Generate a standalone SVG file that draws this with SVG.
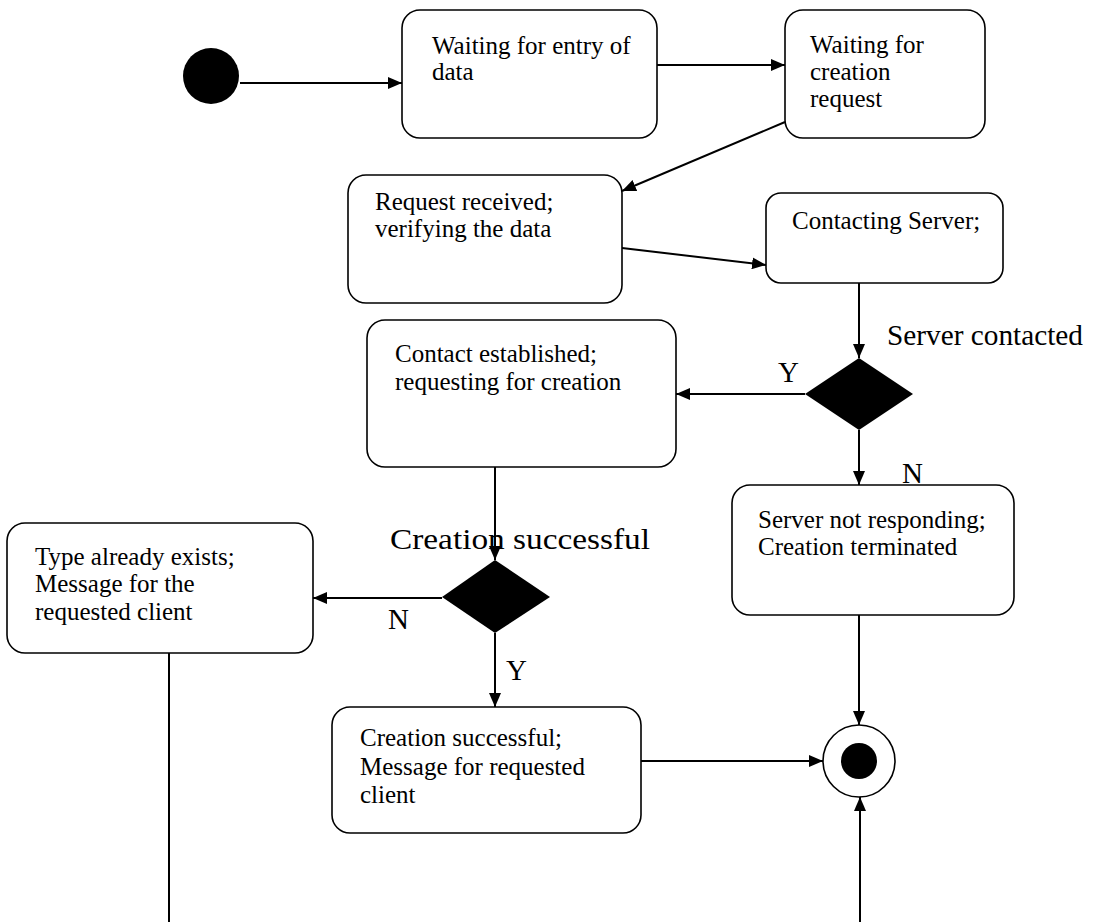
<svg xmlns="http://www.w3.org/2000/svg" width="1093" height="922" viewBox="0 0 1093 922">
  <style>
    .box { fill: #fff; stroke: #000; stroke-width: 1.6; }
    .txt { font-family: "Liberation Serif", "Times New Roman", serif; font-size: 25px; fill: #000; }
    .lbl { font-family: "Liberation Serif", "Times New Roman", serif; font-size: 29px; fill: #000; }
    .edge { fill: none; stroke: #000; stroke-width: 2; }
    .solid { fill: #000; stroke: none; }
  </style>
  <defs>
    <marker id="arrow" viewBox="0 0 14 12" refX="14" refY="6" markerWidth="14" markerHeight="12" markerUnits="userSpaceOnUse" orient="auto">
      <path d="M0,0 L14,6 L0,12 Z" fill="#000"/>
    </marker>
  </defs>
  <rect width="1093" height="922" fill="#fff"/>

  <!-- transitions -->
  <g id="connectors">
    <line class="edge" x1="240" y1="83" x2="402" y2="83" marker-end="url(#arrow)"/>
    <line class="edge" x1="657" y1="65" x2="785" y2="65" marker-end="url(#arrow)"/>
    <line class="edge" x1="785" y1="122" x2="622" y2="191" marker-end="url(#arrow)"/>
    <line class="edge" x1="622" y1="248" x2="766" y2="265" marker-end="url(#arrow)"/>
    <line class="edge" x1="859" y1="283" x2="859" y2="358" marker-end="url(#arrow)"/>
    <line class="edge" x1="805" y1="394" x2="676" y2="394" marker-end="url(#arrow)"/>
    <line class="edge" x1="859" y1="430" x2="859" y2="485" marker-end="url(#arrow)"/>
    <line class="edge" x1="495" y1="467" x2="495" y2="560" marker-end="url(#arrow)"/>
    <line class="edge" x1="442" y1="598" x2="313" y2="598" marker-end="url(#arrow)"/>
    <line class="edge" x1="495" y1="633" x2="495" y2="707" marker-end="url(#arrow)"/>
    <line class="edge" x1="641" y1="761" x2="823" y2="761" marker-end="url(#arrow)"/>
    <line class="edge" x1="859" y1="615" x2="859" y2="725" marker-end="url(#arrow)"/>
    <line class="edge" x1="860" y1="922" x2="860" y2="797" marker-end="url(#arrow)"/>
    <line class="edge" x1="169" y1="653" x2="169" y2="922"/>
    <text class="lbl" x="887" y="345" textLength="196" lengthAdjust="spacingAndGlyphs">Server contacted</text>
    <text class="lbl" x="778" y="382">Y</text>
    <text class="lbl" x="902" y="483">N</text>
    <text class="lbl" x="390" y="549" font-size="30" textLength="260" lengthAdjust="spacingAndGlyphs">Creation successful</text>
    <text class="lbl" x="388" y="629">N</text>
    <text class="lbl" x="506" y="680">Y</text>
  </g>

  <g id="start">
    <circle class="solid" cx="211" cy="76" r="28"/>
  </g>

  <g id="waiting-entry">
    <rect class="box" x="402" y="10" width="255" height="128" rx="18"/>
    <text class="txt" x="432" y="54">Waiting for entry of</text>
    <text class="txt" x="432" y="80">data</text>
  </g>

  <g id="waiting-request">
    <rect class="box" x="785" y="10" width="200" height="128" rx="18"/>
    <text class="txt" x="810" y="53">Waiting for</text>
    <text class="txt" x="810" y="80">creation</text>
    <text class="txt" x="810" y="107">request</text>
  </g>

  <g id="request-received">
    <rect class="box" x="348" y="175" width="274" height="128" rx="18"/>
    <text class="txt" x="375" y="210">Request received;</text>
    <text class="txt" x="375" y="237">verifying the data</text>
  </g>

  <g id="contacting-server">
    <rect class="box" x="766" y="193" width="237" height="90" rx="15"/>
    <text class="txt" x="792" y="229">Contacting Server;</text>
  </g>

  <g id="server-decision">
    <polygon class="solid" points="859,358 913,394 859,430 805,394"/>
  </g>

  <g id="contact-established">
    <rect class="box" x="367" y="320" width="309" height="147" rx="18"/>
    <text class="txt" x="395" y="362">Contact established;</text>
    <text class="txt" x="395" y="390">requesting for creation</text>
  </g>

  <g id="server-not-responding">
    <rect class="box" x="732" y="485" width="282" height="130" rx="18"/>
    <text class="txt" x="758" y="528">Server not responding;</text>
    <text class="txt" x="758" y="555">Creation terminated</text>
  </g>

  <g id="creation-decision">
    <polygon class="solid" points="495,560 550,597 495,633 442,597"/>
  </g>

  <g id="type-exists">
    <rect class="box" x="7" y="523" width="306" height="130" rx="18"/>
    <text class="txt" x="35" y="565">Type already exists;</text>
    <text class="txt" x="35" y="592">Message for the</text>
    <text class="txt" x="35" y="620">requested client</text>
  </g>

  <g id="creation-ok">
    <rect class="box" x="332" y="707" width="309" height="126" rx="18"/>
    <text class="txt" x="360" y="746">Creation successful;</text>
    <text class="txt" x="360" y="775">Message for requested</text>
    <text class="txt" x="360" y="803">client</text>
  </g>

  <g id="end">
    <circle cx="859" cy="761" r="36" fill="#fff" stroke="#000" stroke-width="1.6"/>
    <circle class="solid" cx="859" cy="761" r="18"/>
  </g>
</svg>
